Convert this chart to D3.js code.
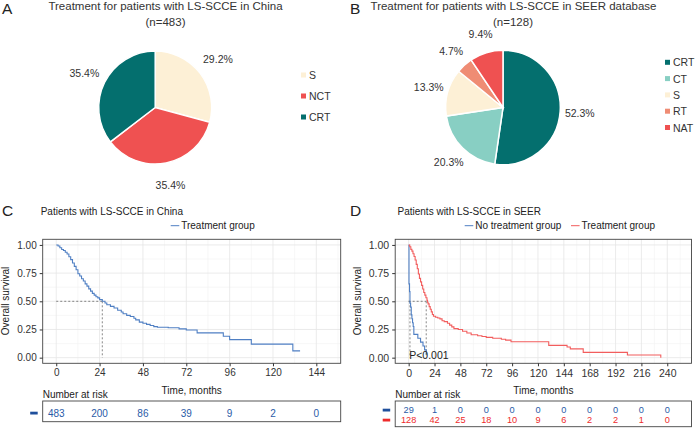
<!DOCTYPE html>
<html><head><meta charset="utf-8">
<script src="https://cdn.jsdelivr.net/npm/d3@7"></script>
<style>body{margin:0;background:#fff}svg{display:block;font-family:"Liberation Sans",Arial,Helvetica,sans-serif}</style>
</head><body><svg id="c" width="697" height="428"></svg>
<script>
// ---------- data ----------
const pieACats = ["S","NCT","CRT"];
const pieAVals = [29.2,35.4,35.4];
const pieBCats = ["CRT","CT","S","RT","NAT"];
const pieBVals = [52.3,20.3,13.3,4.7,9.4];

// Panel C: China, treatment group (time in months, survival)
const cnTime = [0,1,2,3,4,5,6,7,8,9,10,11,12,13,14,15,16,17,18,19,20,21,22,23,24,25.5,27,28,30,32,34,36,37,39,41,43,44,46,48,50,52,54,56,62,68,72,78,92.5,96,108,131,135];
const cnSurv = [1,0.99,0.975,0.96,0.95,0.935,0.92,0.895,0.87,0.84,0.81,0.78,0.745,0.725,0.70,0.68,0.655,0.635,0.61,0.59,0.57,0.555,0.54,0.53,0.515,0.50,0.485,0.47,0.455,0.44,0.42,0.405,0.39,0.375,0.365,0.35,0.335,0.315,0.305,0.295,0.285,0.275,0.27,0.265,0.255,0.245,0.22,0.19,0.16,0.12,0.06,0.06];
const cnMedian = 25.5;
const cnRiskTimes = [0,24,48,72,96,120,144];
const cnRisk = [483,200,86,39,9,2,0];

// Panel D: SEER
const noTxTime = [0,0.3,0.8,1.2,1.8,2.4,3,3.6,4.2,4.8,8.5,11,13.3,14.8,16.3,17];
const noTxSurv = [1,0.655,0.586,0.483,0.448,0.38,0.345,0.31,0.276,0.207,0.172,0.138,0.103,0.069,0.034,0.034];
const txTime = [0,1,2,3,4,5,6,7,8,9,10,11,12,13,14,15,16,17,17.5,18,19,20,21,22,23,25,27,29,31,33,36,38,40,42,46,50,54,58,64,68,72,78,86,90,95,130,147,150,162,203,234];
const txSurv = [1,0.984,0.961,0.945,0.922,0.898,0.867,0.828,0.789,0.742,0.703,0.672,0.641,0.609,0.578,0.555,0.531,0.508,0.492,0.477,0.453,0.43,0.406,0.383,0.367,0.359,0.352,0.344,0.328,0.32,0.305,0.289,0.273,0.258,0.25,0.234,0.219,0.203,0.195,0.188,0.18,0.172,0.164,0.156,0.141,0.109,0.094,0.078,0.047,0.023,0];
const noTxMedian = 1.2, txMedian = 16.3;
const seerRiskTimes = [0,24,48,72,96,120,144,168,192,216,240];
const noTxRisk = [29,1,0,0,0,0,0,0,0,0,0];
const txRisk = [128,42,25,18,10,9,6,2,2,1,0];

const yTicks = [0,0.25,0.5,0.75,1];
const cTicks = [0,24,48,72,96,120,144];
const dTicks = [0,24,48,72,96,120,144,168,192,216,240];

// ---------- colours ----------
const teal="#046f6e", cream="#fdf0d6", red="#ef5151", ltTeal="#88cfc3", salmon="#ef8c74";
const blue="#4f7fc3", kmRed="#f25d5d", blueTxt="#2a5ba7", redTxt="#ee2b2b";

const svg = d3.select("#c");

// ---------- pies ----------
function pie(cx, cy, r, cats, vals, colors, lr){
  const g = svg.append("g").attr("transform",`translate(${cx},${cy})`);
  const arcs = d3.pie().sort(null).value(d=>d)(vals);
  const arc = d3.arc().innerRadius(0).outerRadius(r);
  const lab = d3.arc().innerRadius(lr).outerRadius(lr);
  g.selectAll("path").data(arcs).join("path").attr("d",arc)
    .attr("fill",(d,i)=>colors[i]).attr("stroke","#fff").attr("stroke-width",1.5);
  g.selectAll("text").data(arcs).join("text")
    .attr("transform",d=>`translate(${lab.centroid(d)})`)
    .attr("text-anchor","middle").attr("dominant-baseline","central")
    .attr("font-size",10.5).attr("fill","#333").text(d=>d.value.toFixed(1)+"%");
}
pie(155.2,107.5,56.5,pieACats,pieAVals,[cream,red,teal],79);
pie(503,107.5,57.3,pieBCats,pieBVals,[teal,ltTeal,cream,salmon,red],77);

function legend(x, y0, dy, cats, colors){
  cats.forEach((c,i)=>{
    svg.append("rect").attr("x",x).attr("y",y0+i*dy-2.5).attr("width",5).attr("height",5).attr("fill",colors[i]);
    svg.append("text").attr("x",x+8).attr("y",y0+i*dy).attr("dominant-baseline","central")
      .attr("font-size",10.5).attr("fill","#333").text(c);
  });
}
legend(301,75,21,pieACats,[cream,red,teal]);
legend(665,62.3,16.3,pieBCats,[teal,ltTeal,cream,salmon,red]);

function txt(x,y,s,size,anchor,fill){
  return svg.append("text").attr("x",x).attr("y",y).attr("font-size",size)
    .attr("text-anchor",anchor||"start").attr("dominant-baseline","central").attr("fill",fill||"#222").text(s);
}
txt(2,8,"A",15.5);
txt(165.5,6,"Treatment for patients with LS-SCCE in China",11.5,"middle","#333");
txt(165.5,21.7,"(n=483)",11.5,"middle","#333");
txt(350,8,"B",15.5);
txt(513.5,6,"Treatment for patients with LS-SCCE in SEER database",11.5,"middle","#333");
txt(513,21.7,"(n=128)",11.5,"middle","#333");

// ---------- KM panels ----------
function km(opt){
  const x = d3.scaleLinear().domain(opt.xdom).range(opt.xr);
  const y = d3.scaleLinear().domain([-0.05,1.05]).range([363.3,239.3]);
  const [x0,x1] = opt.xr, y0=239.3, y1=363.3;
  const g = svg.append("g");
  g.append("rect").attr("x",x0).attr("y",y0).attr("width",x1-x0).attr("height",y1-y0).attr("fill","#fff");
  // minor grid
  const st = opt.ticks[1]-opt.ticks[0];
  opt.ticks.forEach(t=>{ const m=t+st/2; if(x(m)<x1) g.append("line").attr("x1",x(m)).attr("x2",x(m)).attr("y1",y0).attr("y2",y1).attr("stroke","#f2f2f2").attr("stroke-width",0.6);});
  yTicks.slice(0,-1).forEach(t=>{ const m=t+0.125; g.append("line").attr("x1",x0).attr("x2",x1).attr("y1",y(m)).attr("y2",y(m)).attr("stroke","#f2f2f2").attr("stroke-width",0.6);});
  opt.ticks.forEach(t=>g.append("line").attr("x1",x(t)).attr("x2",x(t)).attr("y1",y0).attr("y2",y1).attr("stroke","#e6e6e6").attr("stroke-width",0.8));
  yTicks.forEach(t=>g.append("line").attr("x1",x0).attr("x2",x1).attr("y1",y(t)).attr("y2",y(t)).attr("stroke","#e6e6e6").attr("stroke-width",0.8));
  // medians
  const dash = "2,2";
  opt.medians.forEach(m=>{
    g.append("line").attr("x1",x(0)).attr("x2",x(m)).attr("y1",y(0.5)).attr("y2",y(0.5)).attr("stroke","#555").attr("stroke-width",0.7).attr("stroke-dasharray",dash);
    g.append("line").attr("x1",x(m)).attr("x2",x(m)).attr("y1",y(0.5)).attr("y2",y(0)).attr("stroke","#555").attr("stroke-width",0.7).attr("stroke-dasharray",dash);
  });
  // curves
  const line = d3.line().x(d=>x(d[0])).y(d=>y(d[1])).curve(d3.curveStepAfter);
  opt.series.forEach(s=>{
    g.append("path").attr("d",line(s.t.map((t,i)=>[t,s.s[i]]))).attr("fill","none").attr("stroke",s.color).attr("stroke-width",1.1);
  });
  if(opt.p) txt(x(0)+0.5,355,opt.p,10.5,"start","#222");
  // frame
  g.append("rect").attr("x",x0).attr("y",y0).attr("width",x1-x0).attr("height",y1-y0).attr("fill","none").attr("stroke","#444").attr("stroke-width",0.9);
  // axes
  const ax = g.append("g").attr("transform",`translate(0,${y1})`).call(d3.axisBottom(x).tickValues(opt.ticks).tickSize(3).tickPadding(3));
  const ay = g.append("g").attr("transform",`translate(${x0},0)`).call(d3.axisLeft(y).tickValues(yTicks).tickFormat(d3.format(".2f")).tickSize(3).tickPadding(3));
  [ax,ay].forEach(a=>{a.select(".domain").remove(); a.selectAll("line").attr("stroke","#333");
    a.selectAll("text").attr("font-size",opt.tfs).attr("fill","#333").attr("font-family","Liberation Sans, Arial, sans-serif");});
  txt((x0+x1)/2,390,"Time, months",10,"middle","#222");
  svg.append("text").attr("transform",`translate(${opt.ytx},301) rotate(-90)`).attr("text-anchor","middle")
    .attr("dominant-baseline","central").attr("font-size",10).attr("fill","#222").text("Overall survival");
  // title + legend
  txt(opt.titleX,211,opt.title,10,"start","#222");
  opt.legend.forEach(l=>{
    svg.append("line").attr("x1",l.x).attr("x2",l.x+8.6).attr("y1",225.7).attr("y2",225.7).attr("stroke",l.color).attr("stroke-width",1);
    txt(l.x+10.5,225.7,l.label,10,"start","#222");
  });
  // risk table
  txt(x0,394,"Number at risk",10,"start","#222");
  const rows = opt.risk.length;
  const by0 = 401, by1 = rows===1?421.7:426.7;
  svg.append("rect").attr("x",x0).attr("y",by0).attr("width",x1-x0).attr("height",by1-by0).attr("fill","none").attr("stroke","#444").attr("stroke-width",0.9);
  opt.risk.forEach((r,ri)=>{
    const yy = rows===1?413:(410+ri*10);
    svg.append("rect").attr("x",x0-12.5).attr("y",yy-1.3).attr("width",7.5).attr("height",2.8).attr("fill",r.dash);
    r.vals.forEach((v,i)=>txt(x(opt.riskTimes[i]),yy,v,opt.rfs,"middle",r.color));
  });
}

txt(2,210,"C",15.5);
km({xdom:[-7.5,157.5], xr:[42.7,340.7], ticks:cTicks, tfs:10, rfs:10, ytx:5,
  medians:[cnMedian],
  series:[{t:cnTime,s:cnSurv,color:blue}],
  title:"Patients with LS-SCCE in China", titleX:40.7,
  legend:[{x:170.7,color:blue,label:"Treatment group"}],
  riskTimes:cnRiskTimes, risk:[{vals:cnRisk,color:blueTxt,dash:"#1f4f9c"}]});

txt(350,210,"D",15.5);
km({xdom:[-12.5,262.5], xr:[395.2,691.5], ticks:dTicks, tfs:10.5, rfs:9.2, ytx:357,
  medians:[noTxMedian,txMedian],
  series:[{t:noTxTime,s:noTxSurv,color:blue},{t:txTime,s:txSurv,color:kmRed}],
  p:"P<0.001",
  title:"Patients with LS-SCCE in SEER", titleX:397.5,
  legend:[{x:464.7,color:blue,label:"No treatment group"},{x:571,color:kmRed,label:"Treatment group"}],
  riskTimes:seerRiskTimes, risk:[{vals:noTxRisk,color:blueTxt,dash:"#1f4f9c"},{vals:txRisk,color:redTxt,dash:"#ee2b2b"}]});
</script></body></html>
